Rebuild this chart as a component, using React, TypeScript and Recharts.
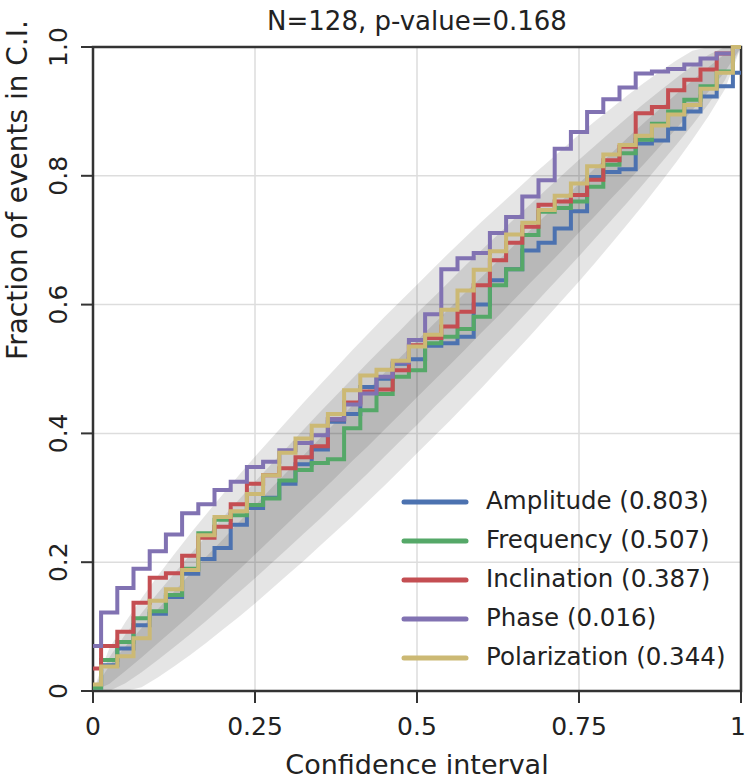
import { ComposedChart, Line, Area, XAxis, YAxis, CartesianGrid, ReferenceArea, Label } from 'recharts'

// confidence interval grid (x)
const ci = [0, 0.025, 0.05, 0.075, 0.1, 0.125, 0.15, 0.175, 0.2, 0.225, 0.25, 0.275, 0.3, 0.325, 0.35, 0.375, 0.4, 0.425, 0.45, 0.475, 0.5, 0.525, 0.55, 0.575, 0.6, 0.625, 0.65, 0.675, 0.7, 0.725, 0.75, 0.775, 0.8, 0.825, 0.85, 0.875, 0.9, 0.925, 0.95, 0.975, 1]

// fraction of events in C.I.
const amplitude = [0.005, 0.04, 0.066, 0.102, 0.12, 0.146, 0.182, 0.205, 0.222, 0.258, 0.284, 0.3, 0.322, 0.352, 0.375, 0.418, 0.43, 0.472, 0.485, 0.508, 0.515, 0.536, 0.54, 0.55, 0.6, 0.638, 0.655, 0.684, 0.696, 0.718, 0.745, 0.798, 0.806, 0.81, 0.85, 0.855, 0.873, 0.9, 0.923, 0.939, 0.96]
const frequency = [0.005, 0.048, 0.076, 0.113, 0.124, 0.149, 0.19, 0.245, 0.266, 0.273, 0.289, 0.299, 0.327, 0.343, 0.354, 0.36, 0.408, 0.436, 0.461, 0.488, 0.498, 0.54, 0.55, 0.562, 0.581, 0.63, 0.655, 0.708, 0.744, 0.75, 0.76, 0.783, 0.817, 0.835, 0.856, 0.881, 0.9, 0.918, 0.939, 0.962, 1]
const inclination = [0.035, 0.07, 0.092, 0.137, 0.176, 0.183, 0.21, 0.238, 0.255, 0.29, 0.322, 0.335, 0.346, 0.363, 0.38, 0.422, 0.448, 0.465, 0.468, 0.498, 0.537, 0.548, 0.566, 0.589, 0.63, 0.669, 0.696, 0.721, 0.755, 0.76, 0.77, 0.794, 0.824, 0.845, 0.897, 0.907, 0.933, 0.949, 0.965, 0.99, 1]
const phase = [0.07, 0.122, 0.16, 0.19, 0.217, 0.243, 0.276, 0.29, 0.312, 0.325, 0.348, 0.356, 0.374, 0.385, 0.397, 0.422, 0.445, 0.462, 0.488, 0.51, 0.545, 0.585, 0.655, 0.672, 0.68, 0.711, 0.736, 0.768, 0.793, 0.842, 0.868, 0.899, 0.919, 0.937, 0.959, 0.962, 0.966, 0.973, 0.982, 0.99, 1]
const polarization = [0.01, 0.038, 0.054, 0.082, 0.14, 0.158, 0.188, 0.242, 0.27, 0.279, 0.306, 0.335, 0.37, 0.392, 0.412, 0.43, 0.467, 0.49, 0.499, 0.513, 0.535, 0.553, 0.592, 0.622, 0.654, 0.683, 0.709, 0.727, 0.747, 0.769, 0.788, 0.815, 0.833, 0.848, 0.862, 0.878, 0.895, 0.91, 0.935, 0.96, 1]

// grey confidence bands (lower / upper edges)
const ci68Lo = [0, 0.011, 0.031, 0.052, 0.074, 0.096, 0.118, 0.141, 0.165, 0.188, 0.212, 0.236, 0.26, 0.284, 0.308, 0.332, 0.357, 0.381, 0.406, 0.431, 0.456, 0.481, 0.506, 0.531, 0.557, 0.582, 0.608, 0.634, 0.659, 0.685, 0.712, 0.738, 0.765, 0.791, 0.818, 0.846, 0.873, 0.902, 0.931, 0.961, 1]
const ci68Hi = [0, 0.039, 0.069, 0.098, 0.127, 0.154, 0.182, 0.209, 0.235, 0.262, 0.288, 0.315, 0.341, 0.366, 0.392, 0.418, 0.443, 0.469, 0.494, 0.519, 0.544, 0.569, 0.594, 0.619, 0.643, 0.668, 0.692, 0.716, 0.74, 0.763, 0.788, 0.812, 0.835, 0.859, 0.882, 0.904, 0.927, 0.948, 0.969, 0.989, 1]
const ci95Lo = [0, 0, 0.012, 0.029, 0.048, 0.068, 0.088, 0.109, 0.131, 0.153, 0.175, 0.198, 0.221, 0.244, 0.267, 0.291, 0.315, 0.339, 0.364, 0.389, 0.413, 0.439, 0.464, 0.489, 0.515, 0.541, 0.567, 0.594, 0.621, 0.648, 0.675, 0.703, 0.731, 0.759, 0.788, 0.818, 0.848, 0.879, 0.912, 0.948, 1]
const ci95Hi = [0, 0.052, 0.088, 0.121, 0.152, 0.182, 0.212, 0.241, 0.269, 0.297, 0.325, 0.352, 0.379, 0.406, 0.433, 0.459, 0.485, 0.511, 0.536, 0.561, 0.587, 0.611, 0.636, 0.661, 0.685, 0.709, 0.733, 0.756, 0.779, 0.802, 0.825, 0.847, 0.869, 0.891, 0.912, 0.932, 0.952, 0.971, 0.988, 1, 1]
const ci997Lo = [0, 0, 0, 0.006, 0.021, 0.038, 0.056, 0.075, 0.095, 0.115, 0.136, 0.158, 0.18, 0.202, 0.225, 0.248, 0.271, 0.295, 0.319, 0.344, 0.369, 0.394, 0.419, 0.445, 0.471, 0.498, 0.525, 0.552, 0.58, 0.608, 0.636, 0.665, 0.695, 0.725, 0.756, 0.788, 0.821, 0.856, 0.893, 0.934, 1]
const ci997Hi = [0, 0.066, 0.107, 0.144, 0.179, 0.212, 0.244, 0.275, 0.305, 0.335, 0.364, 0.392, 0.42, 0.448, 0.475, 0.502, 0.529, 0.555, 0.581, 0.606, 0.631, 0.656, 0.681, 0.705, 0.729, 0.752, 0.775, 0.798, 0.82, 0.842, 0.864, 0.885, 0.905, 0.925, 0.944, 0.962, 0.979, 0.994, 1, 1, 1]

const xTicks = [0, 0.25, 0.5, 0.75, 1]
const xTickLabels = ['0', '0.25', '0.5', '0.75', '1']
const yTicks = [0, 0.2, 0.4, 0.6, 0.8, 1]
const yTickLabels = ['0', '0.2', '0.4', '0.6', '0.8', '1.0']

const series = [
  { key: 'amplitude', name: 'Amplitude', p: '0.803', color: '#4c72b0' },
  { key: 'frequency', name: 'Frequency', p: '0.507', color: '#55a868' },
  { key: 'inclination', name: 'Inclination', p: '0.387', color: '#c44e52' },
  { key: 'phase', name: 'Phase', p: '0.016', color: '#8172b2' },
  { key: 'polarization', name: 'Polarization', p: '0.344', color: '#ccb974' },
]

const data = ci.map((x, i) => ({
  x,
  amplitude: amplitude[i],
  frequency: frequency[i],
  inclination: inclination[i],
  phase: phase[i],
  polarization: polarization[i],
  b997: [ci997Lo[i], ci997Hi[i]],
  b95: [ci95Lo[i], ci95Hi[i]],
  b68: [ci68Lo[i], ci68Hi[i]],
}))

const FONT = '"DejaVu Sans", sans-serif'

const XTick = ({ x, y, payload }: any) => (
  <text x={Math.min(x, 738)} y={y} dy="0.71em" textAnchor="middle" fontSize={25} fill="#222" fontFamily={FONT}>
    {xTickLabels[xTicks.indexOf(payload.value)]}
  </text>
)

const YTick = ({ x, y, payload }: any) => (
  <text transform={`translate(${x},${y}) rotate(-90)`} textAnchor="middle" fontSize={25} fill="#222" fontFamily={FONT}>
    {yTickLabels[yTicks.indexOf(payload.value)]}
  </text>
)

export default function App() {
  return (
    <div style={{ position: 'absolute', left: 0, top: 0, width: 747, height: 780, background: '#fff', fontFamily: FONT }}>
      <div style={{ position: 'absolute', left: 93, width: 648, top: 8, textAlign: 'center', fontSize: 26, lineHeight: '26px', color: '#222' }}>
        N=128, p-value=0.168
      </div>
      <ComposedChart width={747} height={780} data={data} margin={{ top: 47, right: 6, bottom: 39, left: 33 }}>
        <CartesianGrid stroke="#dddddd" strokeWidth={1.5} />
        <XAxis type="number" dataKey="x" domain={[0, 1]} ticks={xTicks} height={50}
          axisLine={false} tickLine={{ stroke: '#333', strokeWidth: 2 }} tickSize={12} tickMargin={14}
          tick={<XTick />}>
          <Label value="Confidence interval" position="bottom" offset={14} fontSize={27} fill="#222" fontFamily={FONT} />
        </XAxis>
        <YAxis type="number" domain={[0, 1]} ticks={yTicks} width={60}
          axisLine={false} tickLine={{ stroke: '#333', strokeWidth: 2 }} tickSize={12} tickMargin={14}
          tick={<YTick />}>
          <Label content={() => (
            <text transform="translate(27,190) rotate(-90)" textAnchor="middle" fontSize={28} fill="#222" fontFamily={FONT}>
              Fraction of events in C.I.
            </text>
          )} />
        </YAxis>
        <Area type="linear" dataKey="b997" fill="#000" fillOpacity={0.1} stroke="none" isAnimationActive={false} />
        <Area type="linear" dataKey="b95" fill="#000" fillOpacity={0.1} stroke="none" isAnimationActive={false} />
        <Area type="linear" dataKey="b68" fill="#000" fillOpacity={0.1} stroke="none" isAnimationActive={false} />
        {series.map((s) => (
          <Line key={s.key} type="step" dataKey={s.key} stroke={s.color} strokeWidth={4} dot={false} isAnimationActive={false} />
        ))}
        <ReferenceArea x1={0} x2={1} y1={0} y2={1} fill="none" stroke="#333" strokeWidth={2.5} ifOverflow="visible" />
      </ComposedChart>
      <svg style={{ position: 'absolute', left: 0, top: 0, pointerEvents: 'none' }} width={747} height={780}>
        {series.map((s, i) => (
          <g key={s.key}>
            <line x1={404} x2={466} y1={502 + 39 * i} y2={502 + 39 * i} stroke={s.color} strokeWidth={5} strokeLinecap="round" />
            <text x={486} y={509 + 39 * i} fontSize={24.5} fill="#222" fontFamily={FONT}>{`${s.name} (${s.p})`}</text>
          </g>
        ))}
      </svg>
    </div>
  )
}
